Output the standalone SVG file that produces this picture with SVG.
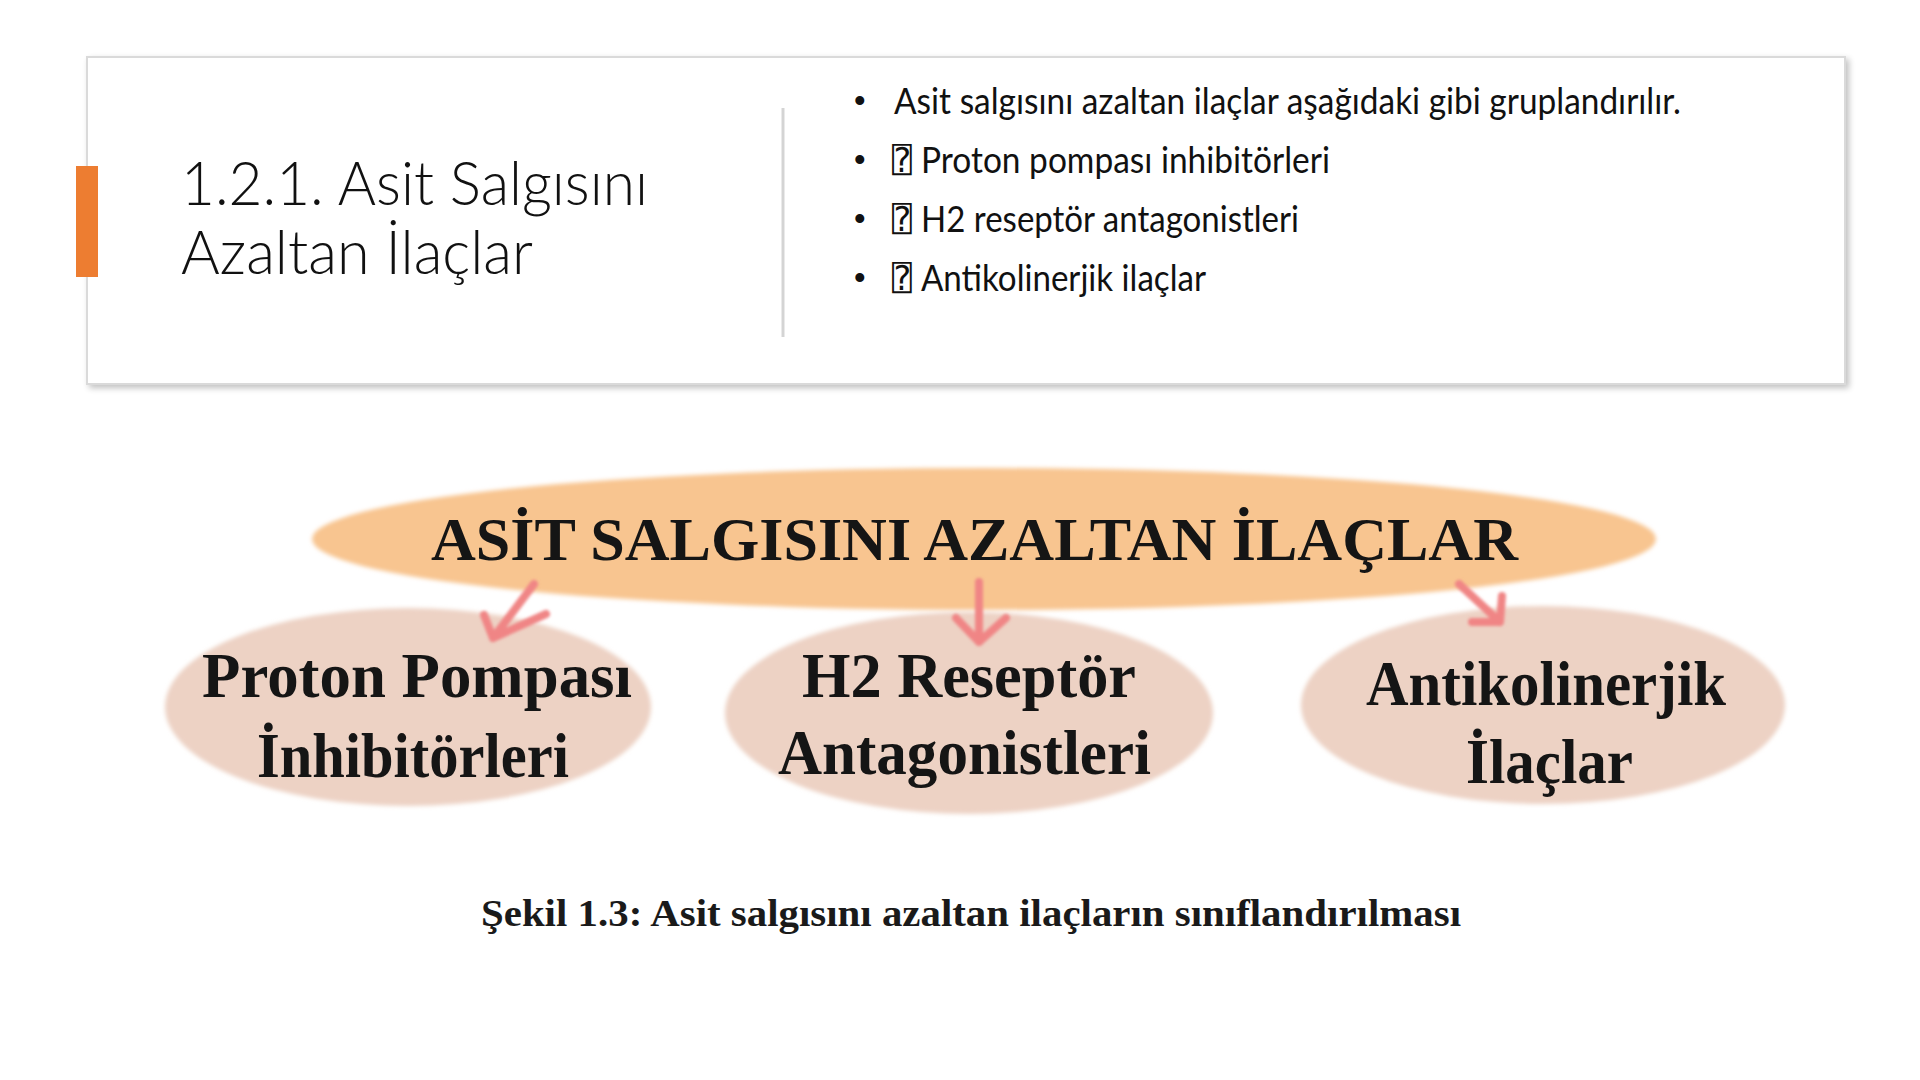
<svg xmlns="http://www.w3.org/2000/svg" width="1920" height="1080" viewBox="0 0 1920 1080">
  <defs>
    <filter id="cardShadow" x="-5%" y="-10%" width="110%" height="125%">
      <feGaussianBlur in="SourceAlpha" stdDeviation="3"/>
      <feOffset dx="3" dy="3" result="b"/>
      <feComponentTransfer><feFuncA type="linear" slope="0.25"/></feComponentTransfer>
      <feMerge><feMergeNode/><feMergeNode in="SourceGraphic"/></feMerge>
    </filter>
    <filter id="soft" x="-10%" y="-10%" width="120%" height="120%">
      <feGaussianBlur stdDeviation="2"/>
    </filter>
    <filter id="softArrow" x="-30%" y="-30%" width="160%" height="160%">
      <feGaussianBlur stdDeviation="1.4"/>
    </filter>
  </defs>
  <style>
    .title { font-family: "Lato", "Open Sans", "Liberation Sans", sans-serif; font-weight: 300; font-size: 62px; fill: #111; }
    .bullet { font-family: "Lato", "Open Sans", "Liberation Sans", sans-serif; font-size: 36px; fill: #111; }
    .dot { font-family: "Liberation Sans", sans-serif; font-size: 33px; fill: #111; }
    .box { font-family: "DejaVu Sans Mono", "DejaVu Sans", sans-serif; font-size: 34px; fill: #111; }
    .serif { font-family: "Liberation Serif", "Times New Roman", serif; font-weight: bold; fill: #151515; }
    .node { font-size: 64px; }
    .main { font-size: 62px; }
    .cap { font-size: 37px; fill: #1a1a1a; }
    .arrow { fill: none; stroke: #F08585; stroke-width: 8; stroke-linecap: round; stroke-linejoin: round; }
  </style>

  <rect width="1920" height="1080" fill="#ffffff"/>

  <!-- Slide card -->
  <g id="card">
    <rect x="87" y="57" width="1758" height="327" fill="#ffffff" stroke="#dadada" stroke-width="2" filter="url(#cardShadow)"/>
    <rect x="76" y="166" width="22" height="111" fill="#ED7D31"/>
    <line x1="783" y1="108" x2="783" y2="337" stroke="#d4d4d4" stroke-width="3"/>
  </g>

  <g id="title">
    <text class="title" x="181" y="205" textLength="467" lengthAdjust="spacingAndGlyphs">1.2.1. Asit Salgısını</text>
    <text class="title" x="181" y="274" textLength="352" lengthAdjust="spacingAndGlyphs">Azaltan İlaçlar</text>
  </g>

  <g id="bullets">
    <text class="dot" x="854" y="112">•</text>
    <text class="bullet" x="894" y="114" textLength="787" lengthAdjust="spacingAndGlyphs">Asit salgısını azaltan ilaçlar aşağıdaki gibi gruplandırılır.</text>
    <text class="dot" x="854" y="171">•</text>
    <text class="box" x="892" y="172" textLength="20" lengthAdjust="spacingAndGlyphs">⍰</text>
    <text class="bullet" x="921" y="173" textLength="409" lengthAdjust="spacingAndGlyphs">Proton pompası inhibitörleri</text>
    <text class="dot" x="854" y="230">•</text>
    <text class="box" x="892" y="231" textLength="20" lengthAdjust="spacingAndGlyphs">⍰</text>
    <text class="bullet" x="921" y="232" textLength="378" lengthAdjust="spacingAndGlyphs">H2 reseptör antagonistleri</text>
    <text class="dot" x="854" y="289">•</text>
    <text class="box" x="892" y="290" textLength="20" lengthAdjust="spacingAndGlyphs">⍰</text>
    <text class="bullet" x="921" y="291" textLength="285" lengthAdjust="spacingAndGlyphs">Antikolinerjik ilaçlar</text>
  </g>

  <!-- Diagram -->
  <g id="node-root">
    <ellipse cx="984" cy="539" rx="672" ry="71" fill="#F8C590" filter="url(#soft)"/>
    <text class="serif main" x="431" y="560" textLength="1087" lengthAdjust="spacingAndGlyphs">ASİT SALGISINI AZALTAN İLAÇLAR</text>
  </g>

  <g id="node-ppi">
    <ellipse cx="408" cy="707" rx="243" ry="99" fill="#EDD2C4" filter="url(#soft)"/>
    <text class="serif node" x="202" y="697" textLength="430" lengthAdjust="spacingAndGlyphs">Proton Pompası</text>
    <text class="serif node" x="257" y="777" textLength="312" lengthAdjust="spacingAndGlyphs">İnhibitörleri</text>
  </g>

  <g id="node-h2">
    <ellipse cx="969" cy="713" rx="244" ry="101" fill="#EDD2C4" filter="url(#soft)"/>
    <text class="serif node" x="802" y="697" textLength="334" lengthAdjust="spacingAndGlyphs">H2 Reseptör</text>
    <text class="serif node" x="778" y="774" textLength="373" lengthAdjust="spacingAndGlyphs">Antagonistleri</text>
  </g>

  <g id="node-anti">
    <ellipse cx="1543" cy="705" rx="242" ry="99" fill="#EDD2C4" filter="url(#soft)"/>
    <text class="serif node" x="1366" y="705" textLength="360" lengthAdjust="spacingAndGlyphs">Antikolinerjik</text>
    <text class="serif node" x="1466" y="783" textLength="167" lengthAdjust="spacingAndGlyphs">İlaçlar</text>
  </g>

  <g id="connectors" filter="url(#softArrow)">
    <path class="arrow" d="M534,584 L493,638 M484,615 L493,638 L546,614"/>
    <path class="arrow" d="M979,582 L979,642 M956,618 L979,642 L1006,618"/>
    <path class="arrow" d="M1459,584 L1500,622 M1502,596 L1500,622 L1472,622"/>
  </g>

  <g id="caption">
    <text class="serif cap" x="481" y="926" textLength="980" lengthAdjust="spacingAndGlyphs">Şekil 1.3: Asit salgısını azaltan ilaçların sınıflandırılması</text>
  </g>
</svg>
